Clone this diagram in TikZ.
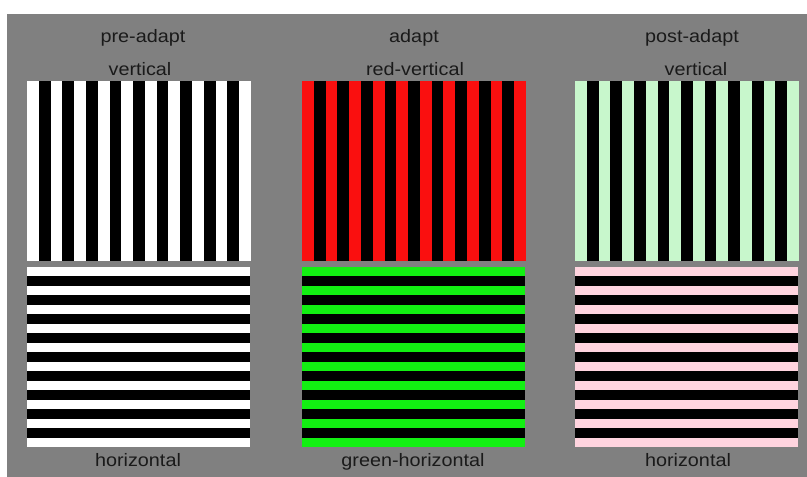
\documentclass[tikz,border=0pt]{standalone}
\usepackage{fontspec}
\setmainfont{Liberation Sans}
\definecolor{bggray}{HTML}{808080}
\definecolor{txt}{HTML}{1A1A1A}
\definecolor{redstripe}{HTML}{FA0F0F}
\definecolor{greenstripe}{HTML}{12F012}
\definecolor{mint}{HTML}{C8F7CC}
\definecolor{pinkstripe}{HTML}{FFD4DF}
\newcommand\vgrating[2]{%
  \fill[#2] (#1,81) rectangle ++(224,180);
  \foreach \i in {1,3,...,17} \fill[black] ({#1+\i*224/19},81) rectangle ++(224/19,180);
}
\newcommand\hgrating[2]{%
  \fill[#2] (#1,267) rectangle ++(223,180);
  \foreach \i in {1,3,...,17} \fill[black] (#1,{267+\i*180/19}) rectangle ++(223,180/19);
}
\newcommand\lbl[1]{\scalebox{1.1}[1]{#1}}
\begin{document}
\begin{tikzpicture}[x=1pt,y=-1pt,
  label text/.style={anchor=base,inner sep=0pt,text=txt,font=\fontsize{18}{21}\selectfont}]
\useasboundingbox (0,0) rectangle (807,477);
\fill[white] (0,0) rectangle (807,477);
\fill[bggray] (7,14) rectangle (807,477);
\vgrating{27}{white}
\hgrating{27}{white}
\vgrating{302}{redstripe}
\hgrating{302}{greenstripe}
\vgrating{575}{mint}
\hgrating{575}{pinkstripe}
\node[label text] (t1) at (143,42) {\lbl{pre-adapt}};
\node[label text] (t2) at (414,42) {\lbl{adapt}};
\node[label text] (t3) at (692,42) {\lbl{post-adapt}};
\node[label text] (v1) at (140,75) {\lbl{vertical}};
\node[label text] (v2) at (415,75) {\lbl{red-vertical}};
\node[label text] (v3) at (696,75) {\lbl{vertical}};
\node[label text] (h1) at (138,466) {\lbl{horizontal}};
\node[label text] (h2) at (413,466) {\lbl{green-horizontal}};
\node[label text] (h3) at (688,466) {\lbl{horizontal}};
\end{tikzpicture}
\end{document}
